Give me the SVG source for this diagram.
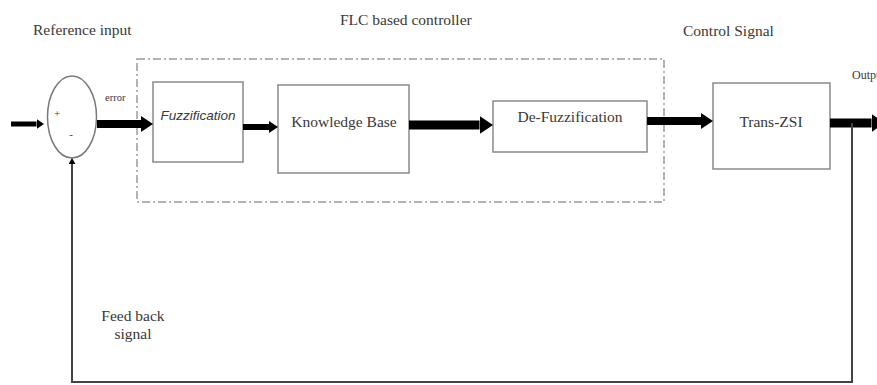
<svg xmlns="http://www.w3.org/2000/svg" width="877" height="385" viewBox="0 0 877 385">
<style>
  .box{fill:#fff;stroke:#8a8a8a;stroke-width:1.5}
  .lbl{font-family:"Liberation Serif","Times New Roman",serif;font-size:15.5px;fill:#383838}
  .it{font-family:"Liberation Sans",Arial,sans-serif;font-style:italic;font-size:13.5px;fill:#383838}
  .arr{stroke:#000;fill:none;stroke-linecap:butt}
  .fb{stroke:#444;stroke-width:2;fill:none}
</style>
<defs>
  <marker id="head" viewBox="0 0 10 10" refX="0" refY="5" markerWidth="1.5" markerHeight="2" markerUnits="strokeWidth" orient="auto" preserveAspectRatio="none">
    <path d="M0,0 L10,5 L0,10 Z" fill="#000"/>
  </marker>
  <marker id="thin" viewBox="0 0 10 10" refX="0" refY="5" markerWidth="3" markerHeight="3.5" markerUnits="strokeWidth" orient="auto" preserveAspectRatio="none">
    <path d="M0,0 L10,5 L0,10 Z" fill="#000"/>
  </marker>
</defs>
<rect width="877" height="385" fill="#fff"/>

<g id="texts-top">
  <text class="lbl" x="33" y="35">Reference input</text>
  <text class="lbl" x="340" y="25">FLC based controller</text>
  <text class="lbl" x="683" y="36">Control Signal</text>
  <text class="lbl" x="852" y="79" style="font-size:12px">Output</text>
  <text class="lbl" x="105" y="101" style="font-size:10.5px">error</text>
</g>

<g id="flc-boundary">
  <rect x="137" y="59" width="527" height="143" fill="none" stroke="#9a9a9a" stroke-width="1.5" stroke-dasharray="8,3,2,3"/>
</g>

<g id="summer">
  <ellipse cx="72" cy="117" rx="24.5" ry="41" fill="#fff" stroke="#7a7a7a" stroke-width="1.5"/>
  <text class="lbl" x="57" y="117" text-anchor="middle" style="font-size:11px">+</text>
  <text class="lbl" x="71" y="138" text-anchor="middle" style="font-size:11px">-</text>
</g>

<g id="fuzzification">
  <rect class="box" x="153" y="82" width="90" height="80"/>
  <text class="it" x="198" y="120" text-anchor="middle">Fuzzification</text>
</g>

<g id="knowledge-base">
  <rect class="box" x="278" y="85" width="131" height="88"/>
  <text class="lbl" x="344" y="127" text-anchor="middle">Knowledge Base</text>
</g>

<g id="defuzzification">
  <rect class="box" x="493" y="101" width="154" height="51"/>
  <text class="lbl" x="570" y="122" text-anchor="middle">De-Fuzzification</text>
</g>

<g id="trans-zsi">
  <rect class="box" x="713" y="83" width="117" height="86"/>
  <text class="lbl" x="771" y="127" text-anchor="middle">Trans-ZSI</text>
</g>

<g id="feedback-label">
  <text class="lbl" x="133" y="321" text-anchor="middle">Feed back</text>
  <text class="lbl" x="133" y="339" text-anchor="middle">signal</text>
</g>

<g id="connectors">
  <line class="arr" x1="11" y1="124" x2="36.5" y2="124" stroke-width="5" marker-end="url(#head)"/>
  <line class="arr" x1="97" y1="124" x2="141" y2="124" stroke-width="8" marker-end="url(#head)"/>
  <line class="arr" x1="243" y1="127" x2="269" y2="127" stroke-width="6" marker-end="url(#head)"/>
  <line class="arr" x1="409" y1="125" x2="479.5" y2="125" stroke-width="9" marker-end="url(#head)"/>
  <line class="arr" x1="647" y1="121" x2="701" y2="121" stroke-width="8" marker-end="url(#head)"/>
  <line class="arr" x1="830" y1="123" x2="871.5" y2="123" stroke-width="9" marker-end="url(#head)"/>
  <path class="fb" d="M852,123 V382 H72 V164" marker-end="url(#thin)"/>
</g>
</svg>
